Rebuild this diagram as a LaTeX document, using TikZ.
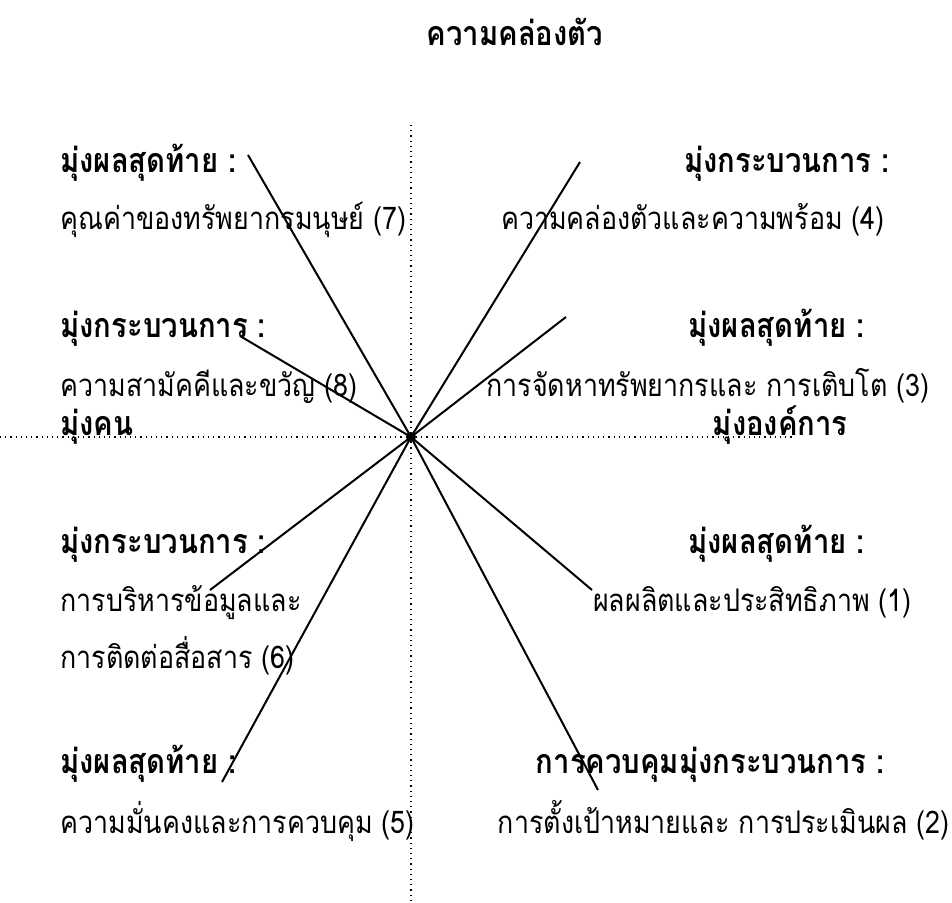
\documentclass[tikz,border=0pt]{standalone}
\usepackage{fontspec}
\newfontfamily\thaifont[Script=Thai,FakeStretch=0.86]{Loma}

\begin{document}
\begin{tikzpicture}[
x=0.5pt,
y=-0.5pt,
every node/.style={
inner sep=0pt,
font=\thaifont\fontsize{15.6}{18}\selectfont
},
head/.style={
font=\thaifont\bfseries\fontsize{17}{19}\selectfont
},
axis/.style={
dotted,
line width=0.6pt
},
spoke/.style={
line width=1pt
}
]

\useasboundingbox (0,0) rectangle (952,903);

% axes
\coordinate (O) at (411,437);
\coordinate (T) at (411,125);
\coordinate (B) at (411,903);
\coordinate (L) at (0,437);
\coordinate (R) at (795,437);

\draw[axis] (T) -- (B);
\draw[axis] (L) -- (R);

\node[head] (title)
at (515,46)
[anchor=base]
{ความคล่องตัว};

\node[head] (people)
at (60,435)
[anchor=base west]
{มุ่งคน};

\node[head] (org)
at (848,435)
[anchor=base east]
{มุ่งองค์การ};

% top left (7)
\node[head] (h7)
at (60,173)
[anchor=base west]
{มุ่งผลสุดท้าย :};

\node (t7)
at (60,230)
[anchor=base west]
{คุณค่าของทรัพยากรมนุษย์ (7)};

% top right (4)
\node[head] (h4)
at (890,173)
[anchor=base east]
{มุ่งกระบวนการ :};

\node (t4)
at (885,230)
[anchor=base east]
{ความคล่องตัวและความพร้อม (4)};

% (8)
\node[head] (h8)
at (60,338)
[anchor=base west]
{มุ่งกระบวนการ :};

\node (t8)
at (60,396)
[anchor=base west]
{ความสามัคคีและขวัญ (8)};

% (3)
\node[head] (h3)
at (865,338)
[anchor=base east]
{มุ่งผลสุดท้าย :};

\node (t3)
at (930,396)
[anchor=base east]
{การจัดหาทรัพยากรและ การเติบโต (3)};

% (6)
\node[head] (h6)
at (60,553)
[anchor=base west]
{มุ่งกระบวนการ :};

\node (t6a)
at (60,611)
[anchor=base west]
{การบริหารข้อมูลและ};

\node (t6b)
at (60,668)
[anchor=base west]
{การติดต่อสื่อสาร (6)};

% (1)
\node[head] (h1)
at (865,553)
[anchor=base east]
{มุ่งผลสุดท้าย :};

\node (t1)
at (912,611)
[anchor=base east]
{ผลผลิตและประสิทธิภาพ (1)};

% (5)
\node[head] (h5)
at (60,773)
[anchor=base west]
{มุ่งผลสุดท้าย :};

\node (t5)
at (60,833)
[anchor=base west]
{ความมั่นคงและการควบคุม (5)};

% (2)
\node[head] (h2)
at (885,773)
[anchor=base east]
{การควบคุมมุ่งกระบวนการ :};

\node (t2)
at (950,833)
[anchor=base east]
{การตั้งเป้าหมายและ การประเมินผล (2)};

% spokes
\coordinate (e7) at (248,155);
\coordinate (e4) at (580,162);
\coordinate (e8) at (240,336);
\coordinate (e3) at (566,317);
\coordinate (e6) at (210,590);
\coordinate (e1) at (592,590);
\coordinate (e5) at (222,782);
\coordinate (e2) at (598,790);

\foreach \e in {e7,e4,e8,e3,e6,e1,e5,e2}
\draw[spoke] (O) -- (\e);

\fill (O) circle (2.5pt);

\end{tikzpicture}
\end{document}
